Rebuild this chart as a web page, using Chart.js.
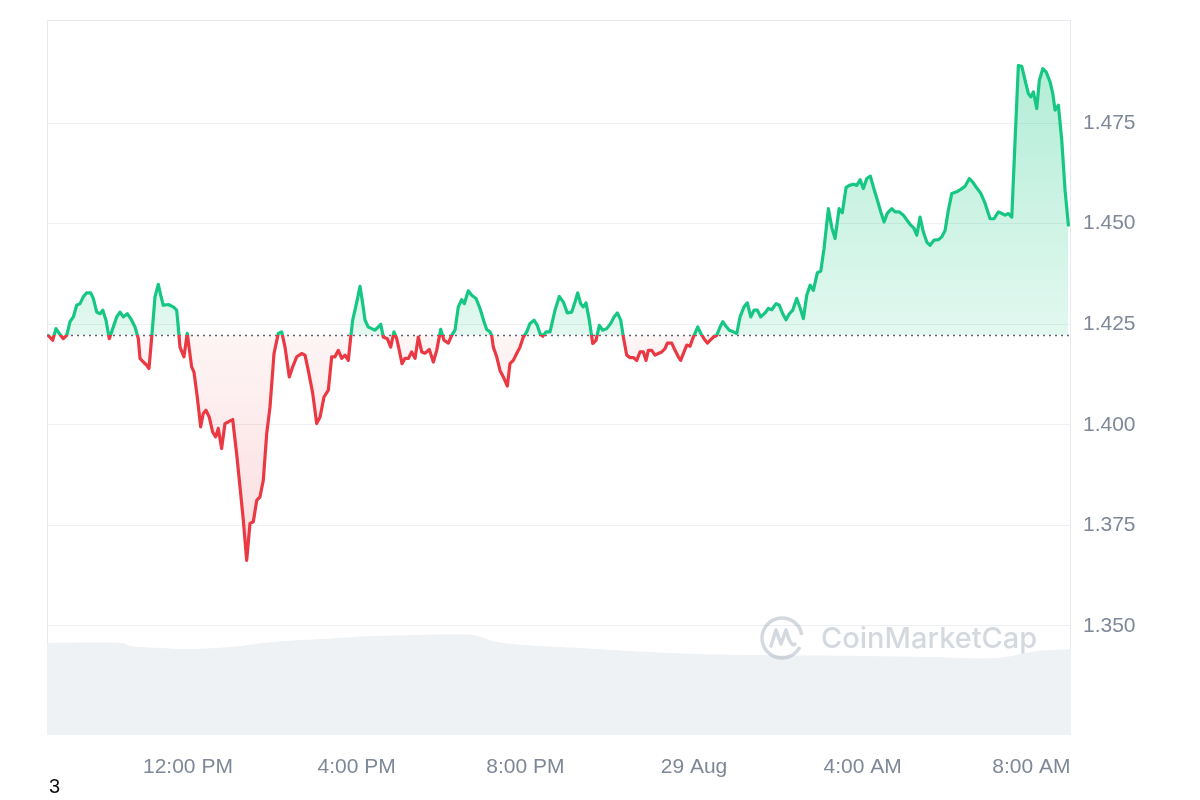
<!DOCTYPE html>
<html>
<head>
<meta charset="utf-8">
<script src="https://cdn.jsdelivr.net/npm/chart.js@4.4.1/dist/chart.umd.min.js"></script>
<style>
  html, body { margin: 0; padding: 0; background: #ffffff; }
  #wrap { position: relative; width: 1200px; height: 800px; }
  #c { position: absolute; left: 0; top: 0; }
  #note { position: absolute; left: 49px; top: 775px; font: 20px "Liberation Sans", Arial, sans-serif; color: #111; }
</style>
</head>
<body>
<div id="wrap">
  <canvas id="c" width="1200" height="800"></canvas>
  <div id="note">3</div>
</div>
<script>
// ---- Data (hours since 28 Aug 00:00) ----
const openPrice = 1.4222;

const times = [
  8.689,8.793,8.871,8.950,9.045,9.125,9.203,9.282,9.362,9.441,
  9.519,9.599,9.694,9.756,9.837,9.915,9.979,10.057,10.135,10.216,
  10.311,10.389,10.467,10.562,10.643,10.745,10.823,10.863,10.942,11.022,
  11.077,11.141,11.219,11.297,11.354,11.416,11.534,11.653,11.733,11.771,
  11.811,11.906,11.984,12.088,12.143,12.221,12.302,12.363,12.427,12.506,
  12.586,12.657,12.719,12.799,12.878,12.956,13.061,13.155,13.235,13.313,
  13.393,13.472,13.550,13.631,13.709,13.787,13.868,13.946,14.041,14.143,
  14.224,14.302,14.404,14.485,14.580,14.698,14.776,14.854,14.959,15.053,
  15.132,15.227,15.329,15.409,15.487,15.566,15.646,15.725,15.803,15.860,
  15.907,15.986,16.081,16.145,16.199,16.277,16.358,16.436,16.514,16.571,
  16.633,16.728,16.808,16.886,16.950,17.012,17.076,17.147,17.226,17.306,
  17.385,17.463,17.544,17.622,17.724,17.819,17.899,17.994,18.072,18.174,
  18.255,18.333,18.411,18.492,18.554,18.648,18.729,18.831,18.926,19.021,
  19.085,19.163,19.203,19.241,19.322,19.400,19.479,19.574,19.637,19.715,
  19.796,19.874,19.953,20.033,20.112,20.207,20.285,20.349,20.413,20.491,
  20.586,20.705,20.807,20.902,20.996,21.101,21.179,21.243,21.314,21.376,
  21.440,21.518,21.599,21.677,21.755,21.836,21.931,22.026,22.104,22.182,
  22.263,22.325,22.405,22.484,22.562,22.643,22.721,22.799,22.863,22.917,
  22.998,23.076,23.154,23.235,23.313,23.368,23.472,23.550,23.629,23.685,
  23.747,23.828,23.906,23.984,24.089,24.160,24.238,24.317,24.381,24.459,
  24.539,24.618,24.682,24.760,24.838,24.933,25.014,25.092,25.187,25.265,
  25.346,25.424,25.502,25.583,25.685,25.763,25.844,25.946,26.024,26.105,
  26.183,26.262,26.342,26.437,26.515,26.594,26.674,26.753,26.831,26.926,
  27.007,27.085,27.187,27.268,27.346,27.441,27.517,27.607,27.685,27.780,
  27.861,27.939,28.017,28.098,28.183,28.254,28.349,28.430,28.508,28.586,
  28.690,28.769,28.871,28.965,29.060,29.141,29.219,29.283,29.361,29.440,
  29.520,29.598,29.693,29.795,29.876,29.954,30.032,30.113,30.231,30.326,
  30.428,30.530,30.611,30.689,30.801,30.903,31.021,31.116,31.218,31.299,
  31.377,31.455,31.536,31.614,31.692,31.773,31.851,31.929,31.986,32.048,
  32.128,32.190,32.271,32.349,32.444,32.508,32.562,32.641,32.721,32.799,
  32.878
];

const prices = [
  1.4222,1.4210,1.4239,1.4227,1.4214,1.4222,1.4256,1.4268,1.4297,1.4301,
  1.4318,1.4328,1.4328,1.4314,1.4280,1.4276,1.4285,1.4260,1.4214,1.4239,
  1.4268,1.4280,1.4268,1.4276,1.4264,1.4243,1.4214,1.4165,1.4156,1.4148,
  1.4140,1.4218,1.4318,1.4349,1.4322,1.4297,1.4299,1.4293,1.4285,1.4243,
  1.4193,1.4169,1.4227,1.4144,1.4131,1.4069,1.3995,1.4028,1.4036,1.4019,
  1.3982,1.3970,1.3991,1.3941,1.4003,1.4007,1.4013,1.3928,1.3845,1.3763,
  1.3663,1.3755,1.3759,1.3812,1.3821,1.3862,1.3978,1.4044,1.4177,1.4227,
  1.4231,1.4193,1.4119,1.4144,1.4169,1.4177,1.4173,1.4135,1.4078,1.4003,
  1.4019,1.4069,1.4086,1.4169,1.4169,1.4185,1.4165,1.4173,1.4160,1.4218,
  1.4260,1.4297,1.4344,1.4301,1.4260,1.4243,1.4239,1.4235,1.4243,1.4250,
  1.4218,1.4214,1.4193,1.4231,1.4214,1.4185,1.4152,1.4165,1.4165,1.4181,
  1.4165,1.4218,1.4181,1.4178,1.4187,1.4156,1.4185,1.4237,1.4210,1.4203,
  1.4222,1.4235,1.4293,1.4311,1.4301,1.4333,1.4322,1.4314,1.4289,1.4256,
  1.4237,1.4231,1.4222,1.4193,1.4169,1.4135,1.4119,1.4096,1.4152,1.4160,
  1.4177,1.4193,1.4218,1.4231,1.4252,1.4260,1.4247,1.4227,1.4220,1.4231,
  1.4231,1.4285,1.4319,1.4305,1.4278,1.4280,1.4305,1.4328,1.4301,1.4293,
  1.4303,1.4260,1.4202,1.4210,1.4247,1.4235,1.4239,1.4252,1.4268,1.4278,
  1.4260,1.4218,1.4173,1.4167,1.4167,1.4160,1.4181,1.4181,1.4160,1.4185,
  1.4185,1.4173,1.4177,1.4181,1.4189,1.4203,1.4203,1.4185,1.4169,1.4160,
  1.4177,1.4198,1.4195,1.4218,1.4243,1.4227,1.4214,1.4203,1.4210,1.4218,
  1.4222,1.4243,1.4256,1.4245,1.4235,1.4231,1.4227,1.4268,1.4293,1.4303,
  1.4268,1.4285,1.4285,1.4268,1.4278,1.4289,1.4286,1.4301,1.4297,1.4276,
  1.4261,1.4276,1.4285,1.4314,1.4291,1.4264,1.4322,1.4347,1.4334,1.4378,
  1.4382,1.4439,1.4537,1.4490,1.4463,1.4537,1.4527,1.4590,1.4595,1.4598,
  1.4595,1.4609,1.4587,1.4612,1.4618,1.4591,1.4558,1.4529,1.4504,1.4526,
  1.4537,1.4529,1.4529,1.4521,1.4507,1.4496,1.4488,1.4471,1.4516,1.4479,
  1.4454,1.4446,1.4459,1.4460,1.4467,1.4483,1.4533,1.4575,1.4579,1.4585,
  1.4593,1.4612,1.4603,1.4591,1.4575,1.4550,1.4512,1.4512,1.4529,1.4525,
  1.4521,1.4525,1.4516,1.4707,1.4893,1.4891,1.4856,1.4823,1.4815,1.4827,
  1.4786,1.4856,1.4885,1.4877,1.4852,1.4823,1.4782,1.4794,1.4707,1.4583,
  1.4496
];

// Volume (relative units) shown as grey area at the bottom
const volTimes = [8.658,10.460,10.626,11.338,12.049,12.998,14.017,15.132,16.389,17.503,18.760,19.329,20.349,21.297,22.483,24.143,25.566,28.009,29.597,31.186,32.135,32.941];
const volumes  = [12.87,12.87,12.45,12.17,12.03,12.31,13.01,13.43,13.85,13.99,13.99,13.01,12.45,12.17,11.75,11.33,11.19,11.05,10.91,10.77,11.75,12.03];

const xTickHours  = [12, 16, 20, 24, 28, 32];
const xTickLabels = ["12:00 PM", "4:00 PM", "8:00 PM", "29 Aug", "4:00 AM", "8:00 AM"];
const yTickValues = [1.350, 1.375, 1.400, 1.425, 1.450, 1.475];

const xMin = 8.658, xMax = 32.94;
const yMin = 1.3229, yMax = 1.5006;

// ---- Styles ----
const GREEN = '#16c784';
const RED = '#ea3943';
const TICK_COLOR = '#7f8898';
const GRID_COLOR = '#eef0f3';

const pricePoints = times.map((t, i) => ({ x: t, y: prices[i] }));
const volPoints = volTimes.map((t, i) => ({ x: t, y: volumes[i] }));

function splitStop(chart) {
  const a = chart.chartArea;
  const y0 = chart.scales.y.getPixelForValue(openPrice);
  return Math.min(1, Math.max(0, (y0 - a.top) / (a.bottom - a.top)));
}

function lineColor(c) {
  const chart = c.chart;
  if (!chart.chartArea) return GREEN;
  const a = chart.chartArea;
  const t = splitStop(chart);
  const g = chart.ctx.createLinearGradient(0, a.top, 0, a.bottom);
  g.addColorStop(0, GREEN); g.addColorStop(t, GREEN);
  g.addColorStop(t, RED); g.addColorStop(1, RED);
  return g;
}

function fillColor(c) {
  const chart = c.chart;
  if (!chart.chartArea) return 'rgba(22,199,132,0.2)';
  const a = chart.chartArea;
  const t = splitStop(chart);
  const g = chart.ctx.createLinearGradient(0, a.top, 0, a.bottom);
  g.addColorStop(0, 'rgba(22,199,132,0.36)');
  g.addColorStop(t, 'rgba(22,199,132,0.12)');
  g.addColorStop(t, 'rgba(234,57,67,0.05)');
  g.addColorStop(1, 'rgba(234,57,67,0.27)');
  return g;
}

const framePlugin = {
  id: 'frame',
  beforeDatasetsDraw(chart) {
    const { ctx, chartArea: a } = chart;
    ctx.save();
    ctx.strokeStyle = '#e6e9ee';
    ctx.lineWidth = 1;
    ctx.beginPath();
    ctx.moveTo(a.left + 0.5, a.bottom);
    ctx.lineTo(a.left + 0.5, a.top + 0.5);
    ctx.lineTo(a.right - 0.5, a.top + 0.5);
    ctx.lineTo(a.right - 0.5, a.bottom);
    ctx.stroke();
    ctx.restore();
  },
  afterDatasetsDraw(chart) {
    // CoinMarketCap watermark
    const { ctx } = chart;
    ctx.save();
    const col = 'rgba(160,170,185,0.45)';
    ctx.strokeStyle = col;
    ctx.lineWidth = 3.5;
    const cx = 782, cy = 638, r = 20;
    ctx.beginPath();
    ctx.arc(cx, cy, r, 0.15 * Math.PI, 1.95 * Math.PI);
    ctx.stroke();
    ctx.beginPath();
    ctx.lineJoin = 'round'; ctx.lineCap = 'round';
    ctx.moveTo(cx - 11, cy + 8);
    ctx.lineTo(cx - 6, cy - 8);
    ctx.lineTo(cx - 1, cy + 6);
    ctx.lineTo(cx + 4, cy - 8);
    ctx.quadraticCurveTo(cx + 9, cy + 10, cx + 13, cy + 6);
    ctx.stroke();
    ctx.fillStyle = col;
    ctx.font = '500 29px Inter, "Noto Sans", sans-serif';
    ctx.textBaseline = 'middle';
    ctx.fillText('CoinMarketCap', 821, 639);
    ctx.restore();
  }
};

new Chart(document.getElementById('c'), {
  type: 'line',
  data: {
    datasets: [
      {
        label: 'Price',
        data: pricePoints,
        yAxisID: 'y',
        borderColor: lineColor,
        backgroundColor: fillColor,
        borderWidth: 3.2,
        borderJoinStyle: 'round',
        borderCapStyle: 'round',
        pointRadius: 0,
        tension: 0,
        fill: { value: openPrice },
        order: 1
      },
      {
        label: 'Open',
        data: [{ x: xMin, y: openPrice }, { x: xMax, y: openPrice }],
        yAxisID: 'y',
        borderColor: '#5b6170',
        borderWidth: 1.5,
        borderDash: [2, 4],
        pointRadius: 0,
        fill: false,
        order: 2
      },
      {
        label: 'Volume',
        data: volPoints,
        yAxisID: 'yVol',
        borderWidth: 0,
        borderColor: 'rgba(0,0,0,0)',
        backgroundColor: '#eff2f5',
        pointRadius: 0,
        tension: 0.3,
        fill: 'origin',
        order: 3
      }
    ]
  },
  options: {
    responsive: false,
    devicePixelRatio: 1,
    animation: false,
    layout: { padding: { left: 47, top: 20, right: 0, bottom: 0 } },
    plugins: { legend: { display: false }, tooltip: { enabled: false } },
    scales: {
      x: {
        type: 'linear',
        min: xMin,
        max: xMax,
        afterBuildTicks(scale) { scale.ticks = xTickHours.map(v => ({ value: v })); },
        afterFit(scale) { scale.height = 65; scale.paddingLeft = 0; scale.paddingRight = 0; },
        grid: { display: false, drawTicks: false },
        border: { display: false },
        ticks: {
          padding: 20,
          maxRotation: 0,
          autoSkip: false,
          color: TICK_COLOR,
          font: { family: '"Liberation Sans", Arial, sans-serif', size: 21 },
          callback(value) {
            const i = xTickHours.indexOf(value);
            return i >= 0 ? xTickLabels[i] : '';
          }
        }
      },
      y: {
        position: 'right',
        min: yMin,
        max: yMax,
        afterBuildTicks(scale) { scale.ticks = yTickValues.map(v => ({ value: v })); },
        afterFit(scale) { scale.width = 129; scale.paddingTop = 0; scale.paddingBottom = 0; },
        grid: { color: GRID_COLOR, drawTicks: false, lineWidth: 1 },
        border: { display: false },
        ticks: {
          padding: 12,
          color: TICK_COLOR,
          font: { family: '"Liberation Sans", Arial, sans-serif', size: 21 },
          callback(value) { return Number(value).toFixed(3); }
        }
      },
      yVol: {
        display: false,
        min: 0,
        max: 100
      }
    }
  },
  plugins: [framePlugin]
});
</script>
</body>
</html>
